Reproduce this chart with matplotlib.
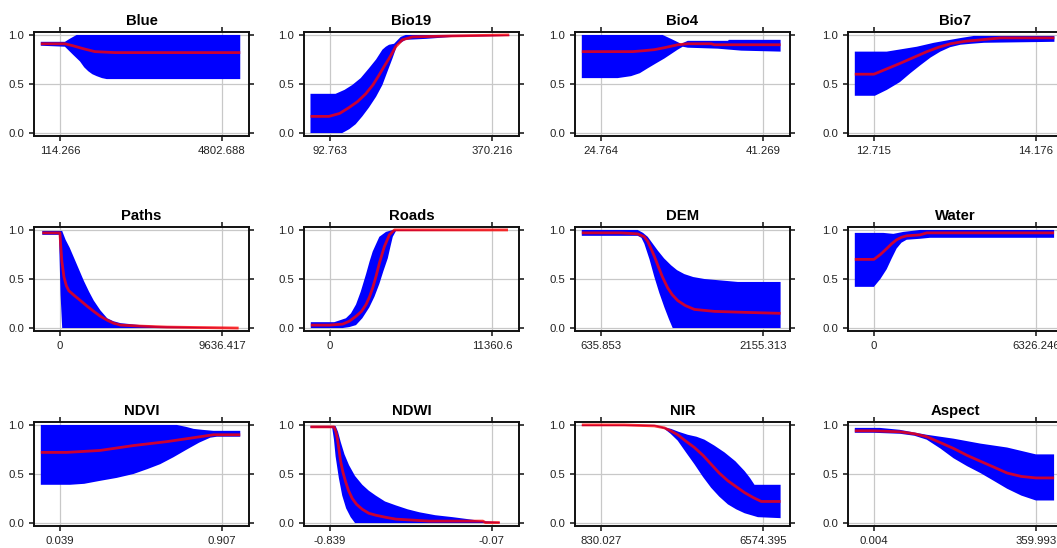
import numpy as np
import matplotlib
matplotlib.use("Agg")
import matplotlib.pyplot as plt

plt.rcParams["font.family"] = ["Liberation Sans", "DejaVu Sans"]

TITLES = ["Blue", "Bio19", "Bio4", "Bio7",
          "Paths", "Roads", "DEM", "Water",
          "NDVI", "NDWI", "NIR", "Aspect"]

# valeurs min / max affichées sous chaque panneau
X_TICKS = [(114.266, 4802.688), (92.763, 370.216), (24.764, 41.269), (12.715, 14.176),
           (0, 9636.417), (0, 11360.6), (635.853, 2155.313), (0, 6326.246),
           (0.039, 0.907), (-0.839, -0.07), (830.027, 6574.395), (0.004, 359.993)]
X_TICK_LABELS = [("114.266", "4802.688"), ("92.763", "370.216"), ("24.764", "41.269"), ("12.715", "14.176"),
                 ("0", "9636.417"), ("0", "11360.6"), ("635.853", "2155.313"), ("0", "6326.246"),
                 ("0.039", "0.907"), ("-0.839", "-0.07"), ("830.027", "6574.395"), ("0.004", "359.993")]

# courbes : (position relative entre min et max, valeur)
BLUE_MEAN = [(-0.118, 0.91), (0.031, 0.91), (0.08, 0.89), (0.144, 0.86), (0.216, 0.83), (0.340, 0.82), (1.113, 0.82)]
BLUE_UP = [(-0.118, 0.93), (0.031, 0.93), (0.06, 0.96), (0.103, 1.0), (1.113, 1.0)]
BLUE_LO = [(-0.118, 0.89), (0.031, 0.88), (0.08, 0.80), (0.124, 0.73), (0.15, 0.67), (0.175, 0.63),
           (0.20, 0.60), (0.227, 0.58), (0.26, 0.56), (0.289, 0.55), (1.113, 0.55)]

BIO19_MEAN = [(-0.120, 0.17), (-0.006, 0.17), (0.06, 0.20), (0.118, 0.26), (0.17, 0.32), (0.221, 0.40),
              (0.265, 0.49), (0.303, 0.59), (0.335, 0.68), (0.365, 0.76), (0.406, 0.88), (0.447, 0.95),
              (0.509, 0.98), (0.757, 0.99), (1.107, 1.0)]
BIO19_UP = [(-0.120, 0.40), (0.035, 0.40), (0.09, 0.44), (0.138, 0.49), (0.19, 0.56), (0.241, 0.66),
            (0.285, 0.75), (0.324, 0.85), (0.345, 0.88), (0.365, 0.90), (0.396, 0.91), (0.437, 0.98),
            (0.468, 1.0), (1.107, 1.0)]
BIO19_LO = [(-0.120, 0.0), (0.076, 0.0), (0.12, 0.04), (0.159, 0.09), (0.20, 0.17), (0.241, 0.26),
            (0.285, 0.37), (0.324, 0.49), (0.356, 0.63), (0.386, 0.76), (0.416, 0.90), (0.468, 0.95),
            (0.592, 0.96), (0.757, 0.98), (1.107, 0.99)]

BIO4_MEAN = [(-0.118, 0.83), (0.196, 0.83), (0.268, 0.84), (0.33, 0.85), (0.392, 0.87), (0.474, 0.90),
             (0.536, 0.91), (0.680, 0.91), (0.701, 0.90), (1.109, 0.90)]
BIO4_UP = [(-0.118, 1.0), (0.381, 1.0), (0.433, 0.96), (0.495, 0.91), (0.536, 0.94), (0.784, 0.94),
           (0.790, 0.95), (1.109, 0.95)]
BIO4_LO = [(-0.118, 0.56), (0.103, 0.56), (0.186, 0.58), (0.24, 0.61), (0.289, 0.66), (0.34, 0.71),
           (0.392, 0.76), (0.474, 0.85), (0.505, 0.88), (0.536, 0.87), (0.722, 0.86), (0.866, 0.84),
           (1.109, 0.83)]

BIO7_MEAN = [(-0.118, 0.60), (0.0, 0.60), (0.161, 0.71), (0.327, 0.83), (0.40, 0.875), (0.472, 0.91),
             (0.56, 0.935), (0.658, 0.95), (0.783, 0.97), (1.114, 0.97)]
BIO7_UP = [(-0.118, 0.83), (0.079, 0.83), (0.265, 0.88), (0.37, 0.92), (0.472, 0.95), (0.54, 0.97),
           (0.617, 0.99), (1.114, 0.99)]
BIO7_LO = [(-0.118, 0.38), (0.006, 0.38), (0.08, 0.44), (0.161, 0.52), (0.225, 0.61), (0.286, 0.69),
           (0.35, 0.77), (0.410, 0.83), (0.470, 0.875), (0.534, 0.90), (0.60, 0.91), (0.679, 0.92),
           (1.114, 0.93)]

PATHS_MEAN = [(-0.109, 0.97), (0.0, 0.97), (0.004, 0.86), (0.012, 0.68), (0.025, 0.52), (0.04, 0.43),
              (0.055, 0.38), (0.09, 0.33), (0.127, 0.28), (0.17, 0.22), (0.209, 0.17), (0.25, 0.12),
              (0.292, 0.08), (0.33, 0.05), (0.374, 0.03), (0.497, 0.02), (0.661, 0.01), (1.103, 0.0)]
PATHS_UP = [(-0.109, 0.99), (0.014, 0.99), (0.035, 0.90), (0.06, 0.82), (0.086, 0.72), (0.117, 0.60),
            (0.148, 0.48), (0.18, 0.37), (0.209, 0.28), (0.25, 0.18), (0.292, 0.10), (0.33, 0.07),
            (0.374, 0.05), (0.497, 0.03), (0.600, 0.02), (1.103, 0.0)]
PATHS_LO = [(-0.109, 0.95), (-0.006, 0.95), (0.004, 0.34), (0.014, 0.0), (1.103, 0.0)]

ROADS_MEAN = [(-0.118, 0.03), (-0.004, 0.03), (0.078, 0.04), (0.12, 0.07), (0.161, 0.12), (0.195, 0.17),
              (0.223, 0.24), (0.245, 0.32), (0.264, 0.41), (0.285, 0.53), (0.305, 0.66), (0.336, 0.83),
              (0.367, 0.95), (0.398, 1.0), (1.099, 1.0)]
ROADS_UP = [(-0.118, 0.06), (0.027, 0.06), (0.099, 0.10), (0.13, 0.15), (0.161, 0.24), (0.19, 0.37),
            (0.223, 0.55), (0.245, 0.68), (0.264, 0.78), (0.305, 0.93), (0.346, 0.98), (0.388, 1.0),
            (1.099, 1.0)]
ROADS_LO = [(-0.118, 0.0), (0.078, 0.0), (0.12, 0.01), (0.161, 0.03), (0.20, 0.10), (0.243, 0.21),
            (0.275, 0.32), (0.305, 0.45), (0.33, 0.58), (0.357, 0.71), (0.375, 0.84), (0.388, 0.93),
            (0.408, 0.99), (1.099, 1.0)]

DEM_MEAN = [(-0.118, 0.97), (0.124, 0.97), (0.227, 0.96), (0.268, 0.93), (0.29, 0.88), (0.309, 0.81),
            (0.33, 0.73), (0.351, 0.64), (0.38, 0.52), (0.412, 0.41), (0.44, 0.34), (0.474, 0.28),
            (0.52, 0.23), (0.577, 0.19), (0.701, 0.17), (0.887, 0.16), (1.109, 0.15)]
DEM_UP = [(-0.118, 1.0), (0.227, 1.0), (0.26, 0.97), (0.289, 0.93), (0.32, 0.86), (0.351, 0.79),
          (0.39, 0.71), (0.433, 0.64), (0.47, 0.59), (0.515, 0.55), (0.57, 0.52), (0.639, 0.50),
          (0.845, 0.47), (1.109, 0.47)]
DEM_LO = [(-0.118, 0.94), (0.227, 0.94), (0.25, 0.92), (0.268, 0.86), (0.30, 0.70), (0.330, 0.52),
          (0.36, 0.36), (0.392, 0.21), (0.42, 0.09), (0.443, 0.0), (1.109, 0.0)]

WATER_MEAN = [(-0.118, 0.70), (0.0, 0.70), (0.04, 0.75), (0.079, 0.81), (0.11, 0.86), (0.140, 0.90),
              (0.17, 0.925), (0.202, 0.94), (0.285, 0.95), (0.326, 0.97), (1.112, 0.97)]
WATER_UP = [(-0.118, 0.97), (0.058, 0.97), (0.120, 0.96), (0.182, 0.98), (0.285, 1.0), (1.112, 1.0)]
WATER_LO = [(-0.118, 0.42), (0.0, 0.42), (0.04, 0.50), (0.079, 0.60), (0.11, 0.71), (0.140, 0.81),
            (0.17, 0.87), (0.202, 0.90), (0.285, 0.91), (0.347, 0.92), (1.112, 0.92)]

NDVI_MEAN = [(-0.118, 0.72), (0.041, 0.72), (0.247, 0.74), (0.454, 0.79), (0.660, 0.83), (0.825, 0.87),
             (0.948, 0.90), (1.113, 0.90)]
NDVI_UP = [(-0.118, 1.0), (0.722, 1.0), (0.78, 0.98), (0.825, 0.96), (0.88, 0.95), (0.948, 0.94), (1.113, 0.94)]
NDVI_LO = [(-0.118, 0.39), (0.062, 0.39), (0.15, 0.40), (0.247, 0.43), (0.35, 0.46), (0.454, 0.50),
           (0.54, 0.55), (0.619, 0.60), (0.70, 0.67), (0.784, 0.75), (0.86, 0.82), (0.928, 0.87),
           (0.969, 0.88), (1.113, 0.88)]

NDWI_MEAN = [(-0.120, 0.98), (0.025, 0.98), (0.035, 0.94), (0.045, 0.87), (0.055, 0.76), (0.066, 0.63),
             (0.08, 0.52), (0.097, 0.42), (0.115, 0.33), (0.138, 0.25), (0.165, 0.19), (0.200, 0.14),
             (0.24, 0.10), (0.283, 0.08), (0.34, 0.06), (0.407, 0.04), (0.614, 0.02), (0.944, 0.02),
             (0.960, 0.005), (1.048, 0.005)]
NDWI_UP = [(-0.120, 0.99), (0.035, 0.99), (0.05, 0.93), (0.066, 0.83), (0.09, 0.70), (0.118, 0.59),
           (0.155, 0.48), (0.200, 0.39), (0.24, 0.33), (0.283, 0.28), (0.34, 0.22), (0.407, 0.18),
           (0.48, 0.14), (0.552, 0.11), (0.65, 0.08), (0.758, 0.06), (0.944, 0.02), (1.048, 0.01)]
NDWI_LO = [(-0.120, 0.97), (0.014, 0.97), (0.025, 0.85), (0.035, 0.68), (0.055, 0.46), (0.076, 0.28),
           (0.10, 0.15), (0.128, 0.06), (0.155, 0.0), (1.048, 0.0)]

NIR_MEAN = [(-0.118, 1.0), (0.144, 1.0), (0.330, 0.99), (0.392, 0.97), (0.43, 0.94), (0.474, 0.90),
            (0.52, 0.84), (0.577, 0.77), (0.63, 0.69), (0.680, 0.60), (0.73, 0.51), (0.784, 0.43),
            (0.835, 0.37), (0.887, 0.31), (0.94, 0.26), (0.990, 0.22), (1.109, 0.22)]
NIR_UP = [(-0.118, 1.0), (0.330, 1.0), (0.38, 0.98), (0.433, 0.96), (0.48, 0.93), (0.536, 0.90),
          (0.59, 0.88), (0.639, 0.85), (0.70, 0.79), (0.763, 0.72), (0.83, 0.63), (0.887, 0.53),
          (0.92, 0.46), (0.948, 0.39), (1.109, 0.39)]
NIR_LO = [(-0.118, 0.99), (0.330, 0.99), (0.392, 0.96), (0.43, 0.91), (0.474, 0.84), (0.525, 0.72),
          (0.577, 0.60), (0.63, 0.47), (0.680, 0.36), (0.73, 0.27), (0.784, 0.19), (0.835, 0.14),
          (0.887, 0.10), (0.969, 0.06), (1.109, 0.05)]

ASPECT_MEAN = [(-0.118, 0.94), (0.0, 0.94), (0.161, 0.93), (0.25, 0.91), (0.326, 0.88), (0.41, 0.82),
               (0.492, 0.76), (0.575, 0.69), (0.657, 0.63), (0.74, 0.57), (0.822, 0.51), (0.91, 0.475),
               (1.0, 0.46), (1.112, 0.46)]
ASPECT_UP = [(-0.118, 0.97), (0.037, 0.97), (0.161, 0.95), (0.326, 0.90), (0.492, 0.86), (0.657, 0.81),
             (0.822, 0.77), (1.0, 0.70), (1.112, 0.70)]
ASPECT_LO = [(-0.118, 0.92), (0.0, 0.92), (0.161, 0.91), (0.25, 0.89), (0.326, 0.85), (0.41, 0.76),
             (0.492, 0.66), (0.575, 0.58), (0.657, 0.51), (0.74, 0.43), (0.822, 0.35), (0.91, 0.28),
             (1.0, 0.23), (1.112, 0.23)]

MEANS = [BLUE_MEAN, BIO19_MEAN, BIO4_MEAN, BIO7_MEAN, PATHS_MEAN, ROADS_MEAN,
         DEM_MEAN, WATER_MEAN, NDVI_MEAN, NDWI_MEAN, NIR_MEAN, ASPECT_MEAN]
UPPERS = [BLUE_UP, BIO19_UP, BIO4_UP, BIO7_UP, PATHS_UP, ROADS_UP,
          DEM_UP, WATER_UP, NDVI_UP, NDWI_UP, NIR_UP, ASPECT_UP]
LOWERS = [BLUE_LO, BIO19_LO, BIO4_LO, BIO7_LO, PATHS_LO, ROADS_LO,
          DEM_LO, WATER_LO, NDVI_LO, NDWI_LO, NIR_LO, ASPECT_LO]

W, H = 1057, 548
COL_X = [34, 304, 575, 848]
ROW_Y = [32, 227, 422]
AX_W, AX_H = 215, 104


def vers_x(points, lo, hi):
    t = np.array([p[0] for p in points])
    y = np.array([p[1] for p in points])
    return lo + t * (hi - lo), y


fig = plt.figure(figsize=(W / 100, H / 100), dpi=100)

for i, titre in enumerate(TITLES):
    r, c = divmod(i, 4)
    ax = fig.add_axes([COL_X[c] / W, 1 - (ROW_Y[r] + AX_H) / H, AX_W / W, AX_H / H])
    lo, hi = X_TICKS[i]

    xu, yu = vers_x(UPPERS[i], lo, hi)
    xl, yl = vers_x(LOWERS[i], lo, hi)
    ax.fill(np.r_[xu, xl[::-1]], np.r_[yu, yl[::-1]], color="#0000ff", lw=0, zorder=2)
    xm, ym = vers_x(MEANS[i], lo, hi)
    ax.plot(xm, ym, color="red", alpha=0.8, lw=2.0, zorder=3, solid_capstyle="butt")

    ax.set_xlim(lo - 0.16 * (hi - lo), hi + 0.167 * (hi - lo))
    ax.set_ylim(-0.03, 1.03)
    ax.set_xticks([lo, hi])
    ax.set_xticklabels(X_TICK_LABELS[i])
    ax.set_yticks([0, 0.5, 1.0])
    ax.set_yticklabels(["0.0", "0.5", "1.0"])
    ax.grid(True, color="#c8c8c8", lw=0.9, zorder=0)
    ax.set_axisbelow(True)
    ax.tick_params(direction="out", length=3.5, width=1.2, labelsize=8.2, pad=3.5,
                   top=True, right=True, colors="#222222")
    for s in ax.spines.values():
        s.set_linewidth(1.4)
        s.set_color("#111111")
    ax.set_title(titre, fontsize=10.7, fontweight="bold", pad=5)

fig.savefig("out.png", dpi=100)
